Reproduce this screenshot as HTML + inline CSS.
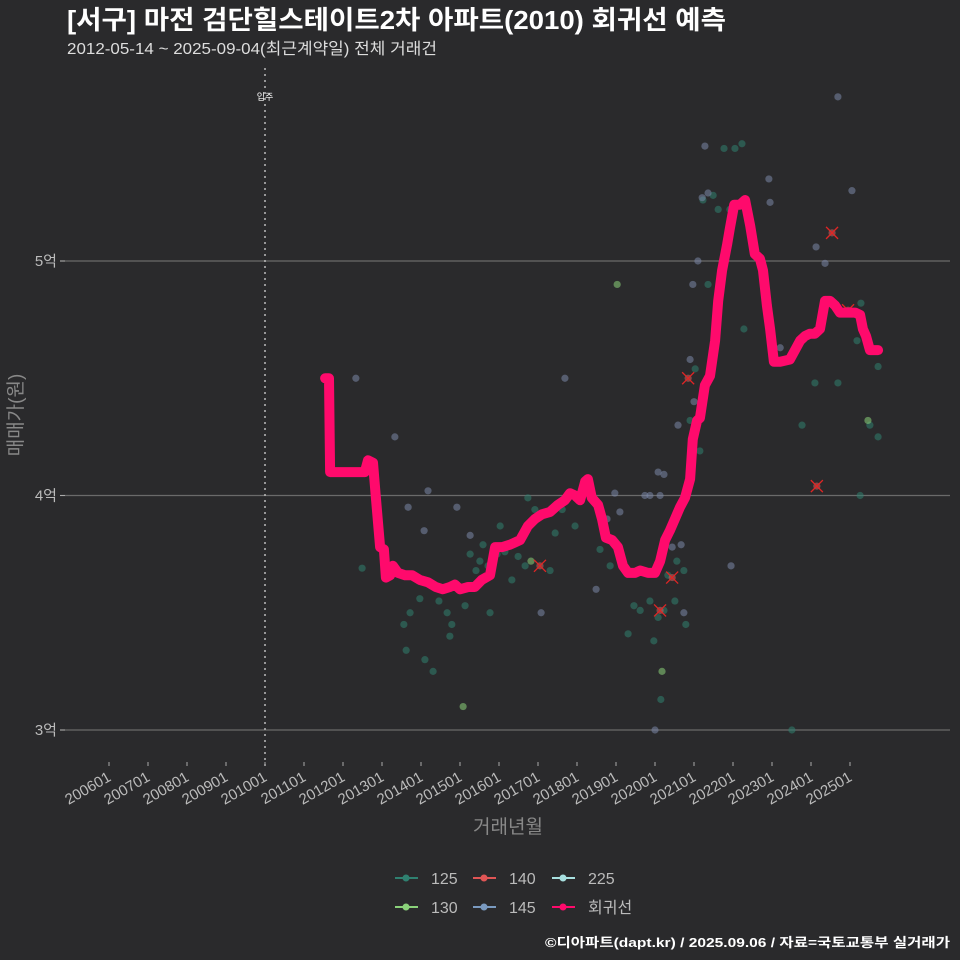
<!DOCTYPE html>
<html><head><meta charset="utf-8">
<style>
html,body{margin:0;padding:0;background:#2a2a2c;}
svg{display:block;font-family:"Liberation Sans","Noto Sans CJK KR",sans-serif;}
</style></head>
<body>
<svg id="chart" width="960" height="960" viewBox="0 0 960 960" xmlns="http://www.w3.org/2000/svg">
<rect width="960" height="960" fill="#2a2a2c"/>
<text x="67" y="29" fill="#ffffff" font-size="26" font-weight="bold" textLength="659" lengthAdjust="spacingAndGlyphs">[서구] 마전 검단힐스테이트2차 아파트(2010) 회귀선 예측</text>
<text x="67" y="54" fill="#dddddd" font-size="16" textLength="370" lengthAdjust="spacingAndGlyphs">2012-05-14 ~ 2025-09-04(최근계약일) 전체 거래건</text>
<g id="grid"></g>
<g id="points"></g>
<g id="line"></g>
<g id="axes"></g>
<text transform="translate(22,415) rotate(-90)" text-anchor="middle" fill="#888" font-size="19">매매가(원)</text>
<text x="508" y="833" text-anchor="middle" fill="#888" font-size="19">거래년월</text>
<g id="legend"></g>
<text x="950" y="947" text-anchor="end" fill="#ffffff" font-size="13" font-weight="bold" textLength="405" lengthAdjust="spacingAndGlyphs">©디아파트(dapt.kr) / 2025.09.06 / 자료=국토교통부 실거래가</text>
</svg>
<script>
const xTickLabels=["200601","200701","200801","200901","201001","201101","201201","201301","201401","201501","201601","201701","201801","201901","202001","202101","202201","202301","202401","202501"];
const yTickValues=[3,4,5];
const yTickLabels=["3억","4억","5억"];
const moveInYear=2010.0;
const lineYears=[2011.54,2011.64,2011.67,2012.56,2012.64,2012.77,2012.85,2012.95,2013.05,2013.10,2013.21,2013.28,2013.41,2013.59,2013.77,2013.97,2014.18,2014.38,2014.56,2014.74,2014.87,2015.00,2015.21,2015.38,2015.56,2015.77,2015.90,2016.08,2016.28,2016.41,2016.54,2016.74,2016.92,2017.10,2017.31,2017.51,2017.69,2017.82,2017.95,2018.08,2018.21,2018.28,2018.38,2018.54,2018.64,2018.74,2018.90,2019.05,2019.18,2019.31,2019.49,2019.62,2019.82,2020.00,2020.13,2020.26,2020.38,2020.51,2020.64,2020.77,2020.90,2020.97,2021.08,2021.15,2021.28,2021.41,2021.54,2021.62,2021.72,2021.85,2021.92,2022.03,2022.18,2022.31,2022.44,2022.56,2022.69,2022.77,2022.87,2022.95,2023.05,2023.21,2023.46,2023.59,2023.72,2023.85,2023.97,2024.10,2024.23,2024.36,2024.49,2024.62,2024.74,2024.95,2025.13,2025.26,2025.33,2025.41,2025.51,2025.72];
const linePrices=[4.50,4.50,4.10,4.10,4.15,4.14,3.98,3.78,3.77,3.65,3.66,3.70,3.67,3.66,3.66,3.64,3.63,3.61,3.60,3.61,3.62,3.60,3.61,3.61,3.64,3.66,3.78,3.78,3.79,3.80,3.81,3.87,3.90,3.92,3.93,3.96,3.98,4.01,4.00,3.98,4.06,4.07,3.99,3.96,3.90,3.82,3.81,3.78,3.70,3.67,3.67,3.68,3.67,3.67,3.72,3.81,3.85,3.90,3.95,3.99,4.07,4.24,4.32,4.33,4.47,4.51,4.66,4.83,4.96,5.07,5.14,5.24,5.24,5.26,5.15,5.03,5.01,4.96,4.81,4.71,4.57,4.57,4.58,4.62,4.66,4.68,4.69,4.69,4.71,4.83,4.83,4.81,4.78,4.78,4.78,4.77,4.71,4.68,4.62,4.62];
const y145=[2012.33,2013.33,2013.67,2014.18,2014.08,2014.92,2015.26,2017.69,2017.08,2018.49,2018.77,2018.97,2019.10,2019.74,2019.87,2020.08,2020.23,2020.13,2020.00,2020.44,2020.59,2020.67,2020.74,2020.97,2021.10,2021.21,2021.28,2021.36,2021.95,2022.92,2022.95,2023.21,2024.13,2024.36,2024.69,2025.05,2020.90,2021.00];
const p145=[4.50,4.25,3.95,4.02,3.85,3.95,3.83,4.50,3.50,3.60,3.90,4.01,3.93,4.00,4.00,4.10,4.09,4.00,3.00,3.78,4.30,3.79,3.50,4.90,5.00,5.27,5.49,5.29,3.70,5.35,5.25,4.63,5.06,4.99,5.70,5.30,4.58,4.40];
const y125=[2012.49,2013.56,2013.62,2013.72,2013.97,2014.10,2014.31,2014.46,2014.67,2014.74,2014.79,2015.00,2015.13,2015.26,2015.41,2015.51,2015.59,2015.72,2015.77,2015.95,2016.03,2016.15,2016.33,2016.49,2016.67,2016.74,2016.92,2017.31,2017.44,2017.62,2017.95,2018.59,2018.85,2019.31,2019.46,2019.62,2019.74,2019.87,2019.97,2020.08,2020.15,2020.23,2020.33,2020.51,2020.56,2020.74,2020.79,2020.90,2021.03,2021.15,2021.23,2021.36,2021.49,2021.62,2021.77,2021.92,2022.05,2022.23,2022.28,2023.51,2023.77,2024.10,2025.18,2025.28,2025.51,2025.72,2025.72,2025.26,2024.69];
const p125=[3.69,3.45,3.34,3.50,3.56,3.30,3.25,3.55,3.50,3.40,3.45,3.60,3.53,3.75,3.68,3.72,3.79,3.70,3.50,3.75,3.87,3.76,3.64,3.74,3.70,3.99,3.94,3.68,3.84,3.94,3.87,3.77,3.70,3.41,3.53,3.51,3.68,3.55,3.38,3.48,3.13,3.51,3.66,3.55,3.72,3.68,3.45,4.32,4.54,4.19,5.26,4.90,5.28,5.22,5.48,5.22,5.48,5.50,4.71,3.00,4.30,4.48,4.66,4.82,4.30,4.55,4.25,4.00,4.48];
const y130=[2015.08,2016.82,2019.03,2020.18,2025.46];
const p130=[3.10,3.72,4.90,3.25,4.32];
const y140=[2017.05,2020.13,2020.44,2020.85,2024.15,2024.54,2024.95];
const p140=[3.70,3.51,3.65,4.50,4.04,5.12,4.79];

const NS="http://www.w3.org/2000/svg";
function xs(yr){return 109+(yr-2006)*39.0;}
function ys(p){return 261+(5-p)*234.5;}
function mk(tag,attrs,parent){const e=document.createElementNS(NS,tag);for(const k in attrs)e.setAttribute(k,attrs[k]);parent.appendChild(e);return e;}
const grid=document.getElementById('grid'),axes=document.getElementById('axes'),pts=document.getElementById('points'),lineG=document.getElementById('line'),leg=document.getElementById('legend');

yTickValues.forEach((v,i)=>{
  const g=mk('line',{x1:60,x2:950,y1:ys(v),y2:ys(v),stroke:'#6a6a6a','stroke-width':1.2},grid);
  
  
  const t=mk('line',{x1:60,x2:65,y1:ys(v),y2:ys(v),stroke:'#aaa'},axes);
  
  
  const l=mk('text',{x:57,y:ys(v)+5,'text-anchor':'end',fill:'#bbb','font-size':15},axes);
  l.textContent=yTickLabels[i];
  
  
});
xTickLabels.forEach(lab=>{
  const yr=+lab.slice(0,4)+(+lab.slice(4)-1)/12;
  const x=xs(yr);
  const t=mk('line',{x1:x,x2:x,y1:762,y2:766,stroke:'#aaa'},axes);
  
  
  const l=mk('text',{transform:`translate(${x+3},780) rotate(-30)`,'text-anchor':'end',fill:'#bbb','font-size':15},axes);
  l.textContent=lab;
  
  
});
const mv=mk('line',{x1:xs(moveInYear),x2:xs(moveInYear),y1:68,y2:770,stroke:'#bbb','stroke-width':1.5,'stroke-dasharray':'2,4'},grid);


const mvl=mk('text',{x:xs(moveInYear),y:100,'text-anchor':'middle',fill:'#fff','font-size':9},grid);
mvl.textContent='입주';



function drawSeries(yrs,ps,color,name,cross){
  yrs.forEach((yr,i)=>{
    const c=mk('circle',{cx:xs(yr),cy:ys(ps[i]),r:3.6,fill:color,'fill-opacity':0.55},pts);
    
    
    if(cross){
      const x=xs(yr),y=ys(ps[i]);
      const p=mk('path',{d:`M${x-6},${y-6}L${x+6},${y+6}M${x-6},${y+6}L${x+6},${y-6}`,stroke:'#e02525','stroke-width':1.3},pts);
      
      
    }
  });
}
drawSeries(y125,p125,'#2f8070','125',false);
drawSeries(y145,p145,'#7a86a8','145',false);
drawSeries(y130,p130,'#8ad17a','130',false);
drawSeries(y140,p140,'#d06060','140',true);

const d=lineYears.map((yr,i)=>(i?'L':'M')+xs(yr).toFixed(1)+','+ys(linePrices[i]).toFixed(1)).join('');
const rl=mk('path',{d:d,fill:'none',stroke:'#ff0a6c','stroke-width':10,'stroke-linejoin':'round','stroke-linecap':'round'},lineG);



const legendItems=[["125","#2f8070",400,878],["140","#e05555",478,878],["225","#a8e0e0",557,878],["130","#8ad17a",400,907],["145","#7a9ac0",478,907],["회귀선","#ff0a6c",557,907]];
legendItems.forEach(it=>{
  const g=mk('g',{},leg);
  
  
  mk('line',{x1:it[2]-5,x2:it[2]+18,y1:it[3],y2:it[3],stroke:it[1],'stroke-width':2},g);
  mk('circle',{cx:it[2]+6,cy:it[3],r:3.5,fill:it[1]},g);
  const t=mk('text',{x:it[2]+31,y:it[3]+6,fill:'#bbb','font-size':16},g);
  t.textContent=it[0];
});
</script>
</body></html>
